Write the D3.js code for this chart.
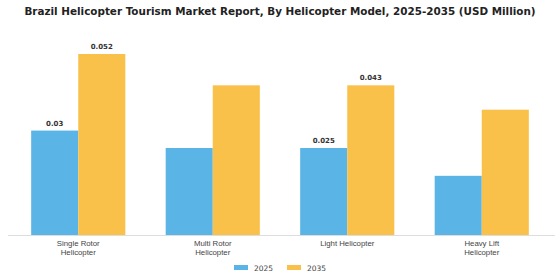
<!DOCTYPE html>
<html>
<head>
<meta charset="utf-8">
<script src="https://cdn.jsdelivr.net/npm/d3@7"></script>
<style>
  body { margin: 0; background: #fff; }
  svg { display: block; font-family: "DejaVu Sans", sans-serif; }
</style>
</head>
<body>
<div id="chart"></div>
<script>
var categories = ["Single Rotor\nHelicopter", "Multi Rotor\nHelicopter", "Light Helicopter", "Heavy Lift\nHelicopter"];
var years = ["2025", "2035"];
var values2025 = [0.030, 0.025, 0.025, 0.017];
var values2035 = [0.052, 0.043, 0.043, 0.036];
// only some bars carry a value label in the original
var labels2025 = ["0.03", null, "0.025", null];
var labels2035 = ["0.052", null, "0.043", null];
var colors = ["#5ab4e6", "#f9c14a"];

var width = 560, height = 280;
var baseline = 235;

var svg = d3.select("#chart").append("svg")
  .attr("width", width)
  .attr("height", height);

svg.append("text")
  .attr("x", width / 2)
  .attr("y", 15)
  .attr("text-anchor", "middle")
  .style("font-size", "10.4px")
  .style("font-weight", "bold")
  .attr("fill", "#222")
  .text("Brazil Helicopter Tourism Market Report, By Helicopter Model, 2025-2035 (USD Million)");

var x = d3.scaleBand()
  .domain(categories)
  .range([11, 549])
  .paddingInner(0.3)
  .paddingOuter(0.15);

var xSub = d3.scaleBand()
  .domain(years)
  .range([0, x.bandwidth()]);

var y = d3.scaleLinear()
  .domain([0, 0.052])
  .range([baseline, 54]);

var rows = categories.map(function (c, i) {
  return {
    cat: c,
    bars: [
      { year: "2025", value: values2025[i], label: labels2025[i] },
      { year: "2035", value: values2035[i], label: labels2035[i] }
    ]
  };
});

var groups = svg.selectAll("g.grp")
  .data(rows)
  .enter().append("g")
  .attr("class", "grp")
  .attr("transform", d => `translate(${x(d.cat)},0)`);

groups.selectAll("rect")
  .data(d => d.bars)
  .enter().append("rect")
  .attr("x", d => xSub(d.year))
  .attr("y", d => y(d.value))
  .attr("width", xSub.bandwidth())
  .attr("height", d => baseline - y(d.value))
  .attr("fill", (d, i) => colors[i]);

groups.selectAll("text.val")
  .data(d => d.bars.filter(b => b.label))
  .enter().append("text")
  .attr("class", "val")
  .attr("x", d => xSub(d.year) + xSub.bandwidth() / 2)
  .attr("y", d => y(d.value) - 5)
  .attr("text-anchor", "middle")
  .style("font-size", "7px")
  .style("font-weight", "bold")
  .attr("fill", "#333")
  .text(d => d.label);

// x axis
var xAxis = svg.append("g")
  .attr("transform", `translate(0,${baseline})`)
  .call(d3.axisBottom(x).tickSize(0).tickFormat(""));
xAxis.select(".domain")
  .attr("d", "M8,0.5H555")
  .attr("stroke", "#ddd");

xAxis.selectAll(".tick").each(function (d) {
  var lines = d.split("\n");
  var t = d3.select(this).append("text")
    .attr("y", 11)
    .attr("text-anchor", "middle")
    .attr("fill", "#444")
    .style("font-size", "7.8px");
  lines.forEach(function (l, i) {
    t.append("tspan").attr("x", 0).attr("dy", i === 0 ? 0 : 9).text(l);
  });
});

// legend
var legend = svg.append("g").attr("transform", "translate(234,268)");
var legX = [0, 53];
years.forEach(function (yr, i) {
  legend.append("rect")
    .attr("x", legX[i]).attr("y", -3)
    .attr("width", 14).attr("height", 5)
    .attr("fill", colors[i]);
  legend.append("text")
    .attr("x", legX[i] + 20).attr("y", 3)
    .style("font-size", "7.5px")
    .attr("fill", "#444")
    .text(yr);
});
</script>
</body>
</html>
